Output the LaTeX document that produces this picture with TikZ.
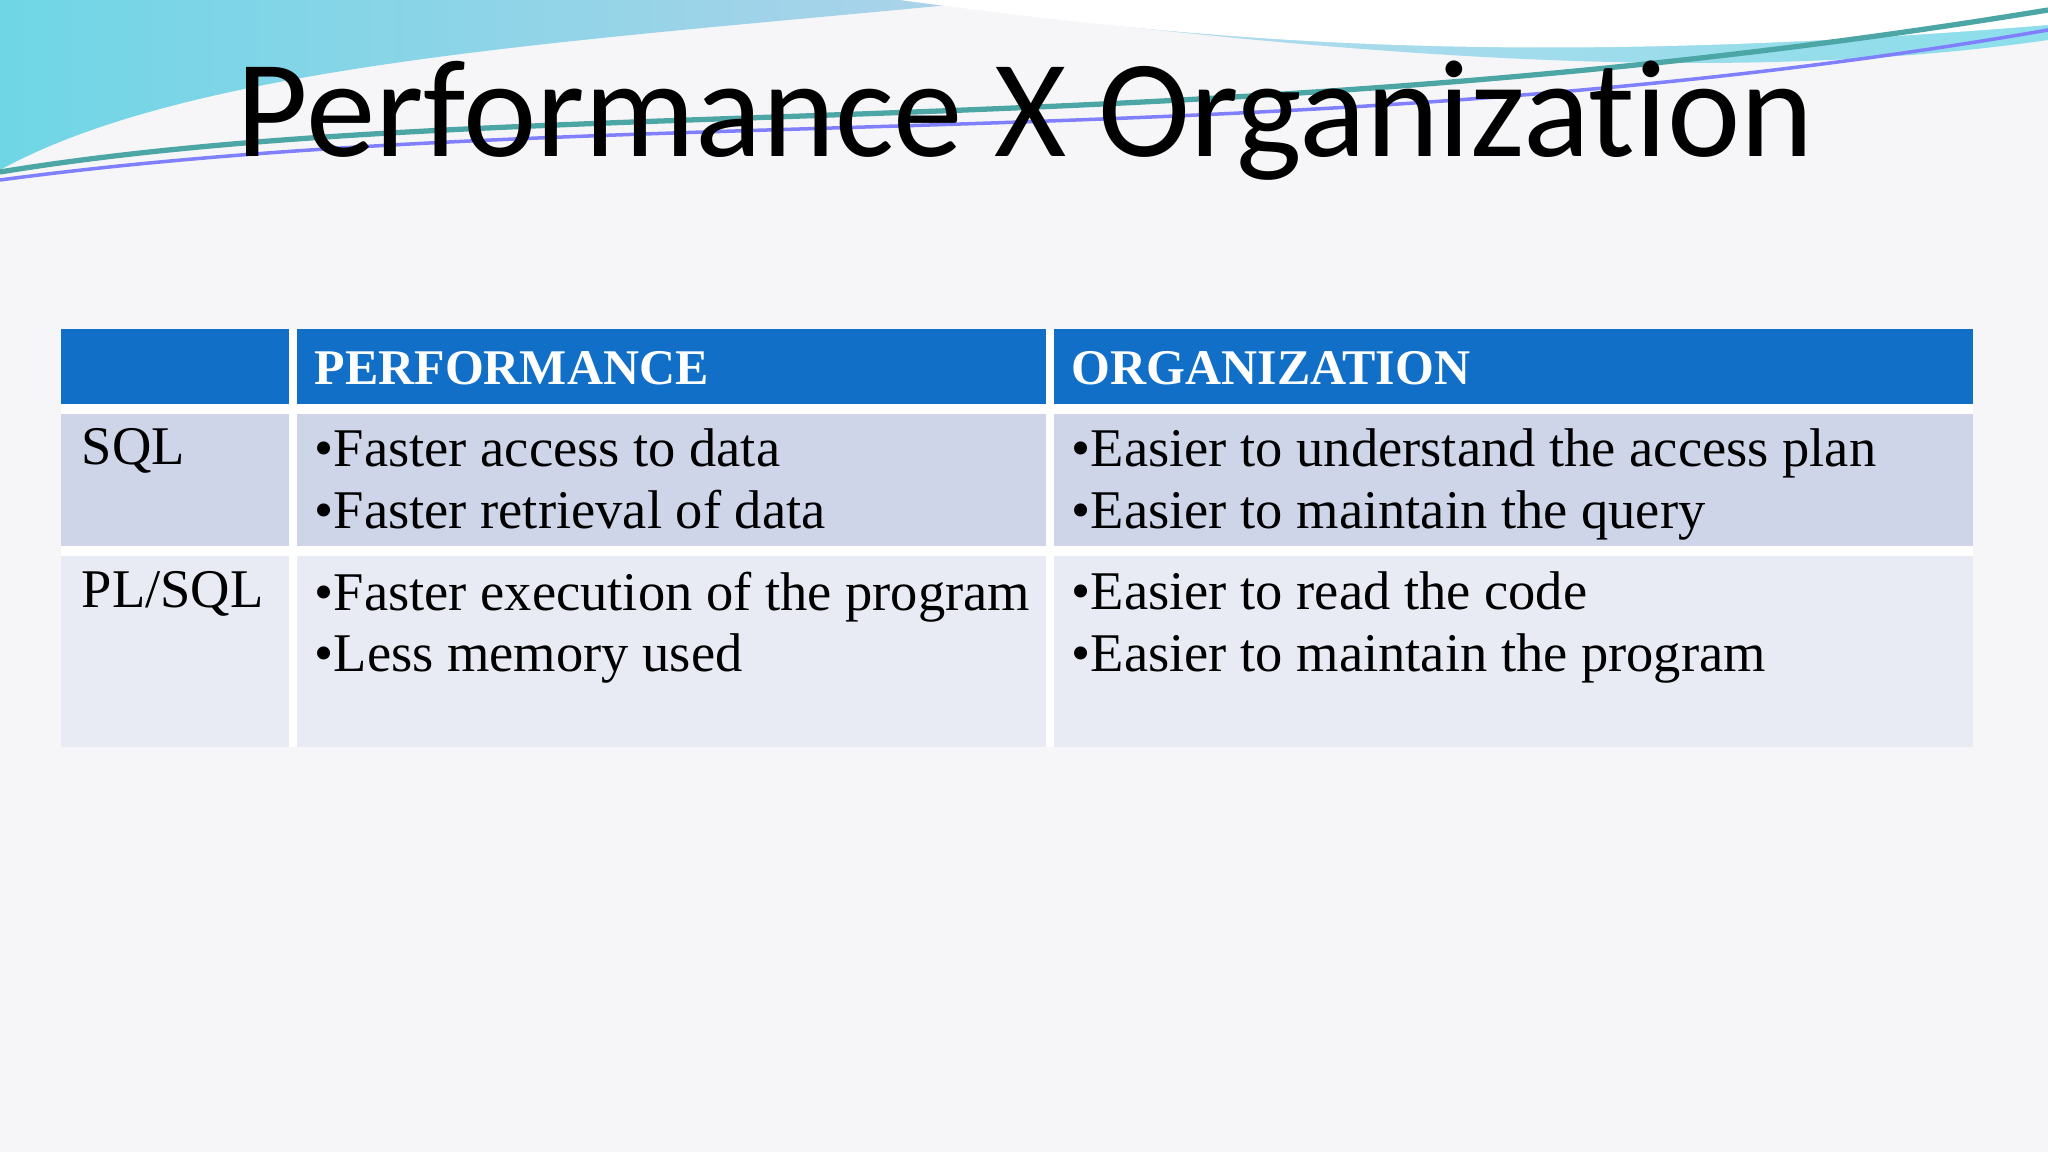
\documentclass[tikz,border=0pt]{standalone}
\usepackage{fontspec}
\setmainfont{Liberation Serif}
\newfontfamily\titlefont[Ligatures=NoCommon]{Carlito}
\definecolor{hdr}{HTML}{116FC8}
\definecolor{rowa}{HTML}{CFD5E8}
\definecolor{rowb}{HTML}{E8EBF4}
\definecolor{bg}{HTML}{F6F6F9}
\definecolor{wave1}{HTML}{6FD6E6}
\definecolor{wave2}{HTML}{8CBFE0}
\tikzset{cell/.style={anchor=north west,align=left,font=\fontsize{15.5}{17.5}\selectfont,inner sep=0pt},
hcell/.style={anchor=west,text=white,font=\bfseries\fontsize{14.2}{17}\selectfont,inner sep=0pt}}
\begin{document}
\begin{tikzpicture}[x=0.01cm,y=-0.01cm]
\useasboundingbox (0,0) rectangle (2048,1152);
\fill[bg] (0,0) rectangle (2048,1152);
% waves
\shade[left color=wave1,right color=wave2!70] (0,0) -- (1000,0) .. controls (600,40) and (200,60) .. (0,170) -- cycle;
\shade[left color=wave2!60,right color=wave1!80] (900,0) -- (2048,0) -- (2048,40) .. controls (1700,90) and (1300,50) .. (900,0) -- cycle;
\fill[white] (900,0) .. controls (1200,40) and (1500,70) .. (2048,25) -- (2048,0) -- cycle;
\draw[teal!70,line width=1.5pt] (0,172) .. controls (500,90) and (1200,150) .. (2048,10);
\draw[blue!50,line width=1pt] (0,180) .. controls (600,100) and (1300,160) .. (2048,30);
\node[font=\titlefont\fontsize{39.5}{40}\selectfont,anchor=base] (title) at (1025,157) {Performance X Organization};
% table
\fill[hdr] (61,329) rectangle (1973,406);
\fill[rowa] (61,406) rectangle (1973,551);
\fill[rowb] (61,551) rectangle (1973,747);
\draw[white,line width=2.5pt] (293,329) -- (293,747) (1050,329) -- (1050,747);
\draw[white,line width=3pt] (61,409) -- (1973,409) (61,551) -- (1973,551);
\node[hcell] (h1) at (314,368) {PERFORMANCE};
\node[hcell] (h2) at (1071,368) {ORGANIZATION};
\node[cell] (r1) at (81,428) {SQL};
\node[cell] (r2) at (81,571) {PL/SQL};
\node[cell] (c11) at (314,428) {•Faster access to data\\•Faster retrieval of data};
\node[cell] (c12) at (1071,428) {•Easier to understand the access plan\\•Easier to maintain the query};
\node[cell] (c21) at (314,571) {•Faster execution of the program\\•Less memory used};
\node[cell] (c22) at (1071,571) {•Easier to read the code\\•Easier to maintain the program};
\end{tikzpicture}
\end{document}
